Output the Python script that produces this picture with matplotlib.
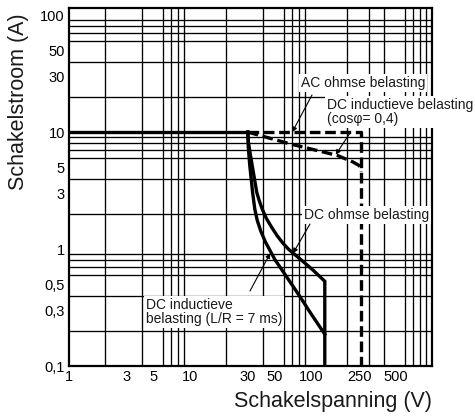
import matplotlib
matplotlib.use("Agg")
import matplotlib.pyplot as plt
from matplotlib.ticker import FixedLocator, LogLocator, NullFormatter, FixedFormatter
import numpy as np

plt.rcParams['font.family'] = ['Liberation Sans', 'DejaVu Sans']

# ---- data ----
base_v = [1, 30]
base_i = [10, 10]

ac_v = [30, 260, 260]
ac_i = [10, 10, 0.1]

dc_cos_v = [30, 68, 166, 222, 248, 257, 260]
dc_cos_i = [10, 7.9, 6.3, 5.55, 5.2, 4.95, 4.6]

dc_ohm_v = [30, 30.4, 31.4, 32.7, 35.6, 37.3, 39.5, 42.5, 47, 52.5, 58.7, 65, 71.4, 85, 104, 130, 130]
dc_ohm_i = [10, 8.2, 6.6, 5.15, 3.06, 2.6, 2.2, 1.85, 1.55, 1.3, 1.12, 1.0, 0.92, 0.79, 0.66, 0.53, 0.1]

dc_ind_v = [30, 30.3, 31.2, 32.9, 34.3, 36, 38.5, 42, 50.4, 62.8, 80, 100, 130]
dc_ind_i = [10, 7.5, 5.15, 3.06, 2.2, 1.75, 1.42, 1.15, 0.81, 0.58, 0.4, 0.28, 0.187]

x_ticks = [1, 3, 5, 10, 30, 50, 100, 250, 500]
x_ticklabels = ['1', '3', '5', '10', '30', '50', '100', '250', '500']
y_ticks = [0.1, 0.3, 0.5, 1, 3, 5, 10, 30, 50, 100]
y_ticklabels = ['0,1', '0,3', '0,5', '1', '3', '5', '10', '30', '50', '100']

W, H = 475, 417
fig = plt.figure(figsize=(W / 100, H / 100), dpi=100)
L, R, T, B = 69, 432, 8, 366
ax = fig.add_axes([L / W, 1 - B / H, (R - L) / W, (B - T) / H])

ax.set_xscale('log')
ax.set_yscale('log')
ax.set_xlim(1, 1000)
ax.set_ylim(0.1, 115)

ax.xaxis.set_major_locator(FixedLocator(x_ticks))
ax.xaxis.set_major_formatter(FixedFormatter(x_ticklabels))
ax.yaxis.set_major_locator(FixedLocator(y_ticks))
ax.yaxis.set_major_formatter(FixedFormatter(y_ticklabels))
ax.xaxis.set_minor_locator(LogLocator(base=10, subs=np.arange(1, 10), numticks=50))
ax.yaxis.set_minor_locator(LogLocator(base=10, subs=np.arange(1, 10), numticks=50))
ax.xaxis.set_minor_formatter(NullFormatter())
ax.yaxis.set_minor_formatter(NullFormatter())
ax.grid(False, which='major')
ax.grid(True, which='minor', color='black', lw=0.95)
ax.tick_params(which='both', length=0)
ax.tick_params(axis='both', which='major', labelsize=10.5, pad=3, labelcolor='black')
for s in ax.spines.values():
    s.set_linewidth(1.6)
    s.set_color('black')

lw = 2.4
ax.plot(base_v, base_i, color='black', lw=lw, solid_capstyle='butt', zorder=4)
ax.plot(ac_v, ac_i, color='black', lw=lw, dashes=(3.2, 1.4), zorder=4)
ax.plot(dc_cos_v, dc_cos_i, color='black', lw=lw, dashes=(3.2, 1.4), zorder=4)
ax.plot(dc_ohm_v, dc_ohm_i, color='black', lw=lw, solid_joinstyle='miter', zorder=4)
ax.plot(dc_ind_v, dc_ind_i, color='black', lw=lw, solid_joinstyle='round', zorder=4)

def px(x, y):
    return ((x - L) / (R - L), (B - y) / (B - T))

tfs = 10
bbox = dict(facecolor='white', edgecolor='none', pad=1.5)
ax.text(*px(301, 83), 'AC ohmse belasting', transform=ax.transAxes, fontsize=tfs,
        ha='left', va='center', bbox=bbox, zorder=5, color='#1a1a1a', clip_on=False)
ax.text(*px(327, 112), 'DC inductieve belasting\n(cos\u03c6= 0,4)', transform=ax.transAxes,
        fontsize=tfs, ha='left', va='center', bbox=bbox, zorder=5, color='#1a1a1a',
        linespacing=1.05, clip_on=False)
ax.text(*px(304, 215), 'DC ohmse belasting', transform=ax.transAxes, fontsize=tfs,
        ha='left', va='center', bbox=bbox, zorder=5, color='#1a1a1a', clip_on=False)
ax.text(*px(146, 312), 'DC inductieve\nbelasting (L/R = 7 ms)', transform=ax.transAxes,
        fontsize=tfs, ha='left', va='center', bbox=bbox, zorder=5, color='#1a1a1a',
        linespacing=1.05, clip_on=False)

ap = dict(arrowstyle='-|>', color='black', lw=0.8, mutation_scale=7, shrinkA=0, shrinkB=0)
ax.annotate('', xy=(70, 10), xycoords='data', xytext=px(312, 95),
            textcoords='axes fraction', arrowprops=ap, zorder=6)
ax.annotate('', xy=(160, 6.4), xycoords='data', xytext=px(350, 133),
            textcoords='axes fraction', arrowprops=ap, zorder=6)
ax.annotate('', xy=(71, 0.92), xycoords='data', xytext=px(310, 224),
            textcoords='axes fraction', arrowprops=ap, zorder=6)
ax.annotate('', xy=(46, 0.92), xycoords='data', xytext=px(250, 291),
            textcoords='axes fraction', arrowprops=ap, zorder=6)

fig.text(19 / W, 1 - 102 / H, 'Schakelstroom (A)', rotation=90, ha='center', va='center',
         fontsize=15.5, color='#1a1a1a')
fig.text(432 / W, 1 - 402 / H, 'Schakelspanning (V)', ha='right', va='center',
         fontsize=15.5, color='#1a1a1a')

fig.savefig('out.png', dpi=100, facecolor='white')
